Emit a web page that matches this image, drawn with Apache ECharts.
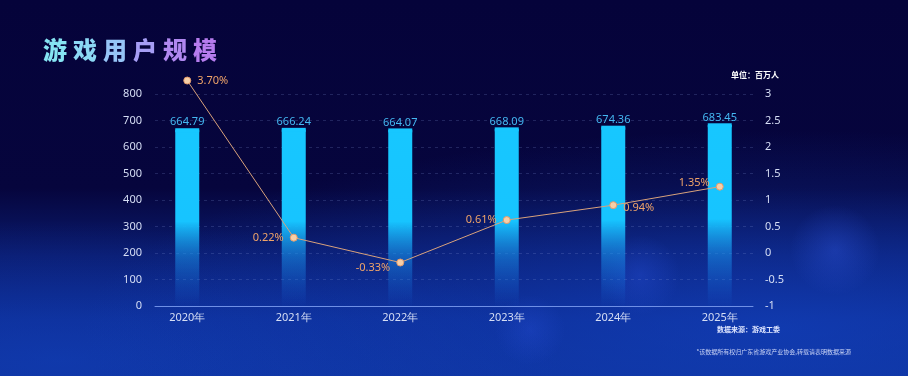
<!DOCTYPE html>
<html><head><meta charset="utf-8">
<script src="https://cdn.jsdelivr.net/npm/echarts@6/dist/echarts.min.js"></script>
<style>
html,body{margin:0;padding:0;width:908px;height:376px;overflow:hidden;}
#bg{position:absolute;left:0;top:0;width:908px;height:376px;
background:
radial-gradient(circle at 640px 275px, rgba(40,80,220,0.35) 0, rgba(40,80,220,0) 40px),
radial-gradient(circle at 835px 250px, rgba(50,90,230,0.35) 0, rgba(50,90,230,0) 45px),
radial-gradient(circle at 530px 330px, rgba(40,80,220,0.3) 0, rgba(40,80,220,0) 35px),
radial-gradient(ellipse 700px 200px at 780px 330px, rgba(20,70,200,0.55) 0, rgba(20,70,200,0) 100%),
radial-gradient(ellipse 500px 140px at 60px 360px, rgba(20,70,200,0.45) 0, rgba(20,70,200,0) 100%),
linear-gradient(180deg, #05033a 0%, #06053d 50%, #0a1b6e 68%, #0c2a8e 85%, #0d2f95 100%);}
#main{position:absolute;left:0;top:0;width:908px;height:376px;}
</style></head>
<body><div id="bg"></div><div id="main"></div>
<script>
const categories = ['2020年','2021年','2022年','2023年','2024年','2025年'];
const users = [664.79, 666.24, 664.07, 668.09, 674.36, 683.45];
const growth = [3.70, 0.22, -0.33, 0.61, 0.94, 1.35];
const growthLabelPos = ['right','left','left','left','right','left'];
const leftAxis = {min: 0, max: 800, interval: 100};
const rightAxis = {min: -1, max: 3, interval: 0.5};
const titleChars = ['游','戏','用','户','规','模'];
const titleColors = ['#86e4f3','#8cd8f5','#96c4f7','#a69ef5','#b088f0','#b67cee'];

const chart = echarts.init(document.getElementById('main'), null, {renderer: 'canvas'});
const G = echarts.graphic;
const barColor = new G.LinearGradient(0, 0, 0, 1, [
  {offset: 0, color: '#17c7ff'},
  {offset: 0.52, color: '#17c4ff'},
  {offset: 0.72, color: 'rgba(25,150,240,0.55)'},
  {offset: 1, color: 'rgba(25,110,230,0.02)'}
]);
const lineData = growth.map((v, i) => {
  const pos = growthLabelPos[i];
  let offset = [0, 0];
  if (i === 2) offset = [0, 5];
  if (i === 4) offset = [0, 3];
  if (i === 5) offset = [0, -4];
  return {value: v, label: {position: pos, offset: offset}};
});
const rich = {};
titleChars.forEach((c, i) => {
  rich['c' + i] = {color: titleColors[i], fontFamily: 'Noto Sans CJK SC', fontWeight: 900,
    fontSize: 24, width: 30, align: 'center'};
});
const titleText = titleChars.map((c, i) => '{c' + i + '|' + c + '}').join('');

chart.setOption({
  backgroundColor: 'transparent',
  title: {
    text: titleText, left: 35, top: 33,
    textStyle: {rich: rich, fontSize: 24, fontWeight: 900}
  },
  graphic: [
    {type: 'text', right: 129, top: 71, style: {text: '单位：百万人', fill: '#ffffff', font: 'bold 8px "Noto Sans CJK SC"'}},
    {type: 'text', right: 128, top: 326, style: {text: '数据来源：游戏工委', fill: '#dfe6ff', font: 'bold 7px "Noto Sans CJK SC"'}},
    {type: 'text', right: 57, top: 349, style: {text: '*该数据所有权归广东省游戏产业协会,转载请表明数据来源', fill: '#c9d3f5', font: '6px "Noto Sans CJK SC"'}}
  ],
  grid: [
    {left: 134, right: 135, top: 60, bottom: 70},
    {left: 155, right: 155, top: 94, bottom: 70}
  ],
  xAxis: [
    {type: 'category', gridIndex: 0, data: categories,
     axisLine: {show: false}, axisTick: {show: false},
     axisLabel: {color: '#d6def5', fontSize: 11, margin: 6, fontFamily: 'Noto Sans'}},
    {type: 'category', gridIndex: 1, data: categories,
     axisLine: {show: true, lineStyle: {color: '#6f90e6', width: 1}}, axisTick: {show: false},
     axisLabel: {show: false}}
  ],
  yAxis: [
    {type: 'value', gridIndex: 1, min: leftAxis.min, max: leftAxis.max, interval: leftAxis.interval,
     axisLine: {show: false}, axisTick: {show: false},
     axisLabel: {color: '#d6def5', fontSize: 11, margin: 13, fontFamily: 'Noto Sans'},
     splitLine: {show: true, lineStyle: {color: 'rgba(130,150,220,0.22)', type: [3, 4]}}},
    {type: 'value', gridIndex: 1, position: 'right', min: rightAxis.min, max: rightAxis.max, interval: rightAxis.interval,
     axisLine: {show: false}, axisTick: {show: false},
     axisLabel: {color: '#d6def5', fontSize: 11, margin: 12, fontFamily: 'Noto Sans'},
     splitLine: {show: false}},
    {type: 'value', gridIndex: 0, min: 0, max: 928.3, show: false},
    {type: 'value', gridIndex: 0, min: -1.293, max: 4.155, show: false}
  ],
  series: [
    {type: 'bar', xAxisIndex: 0, yAxisIndex: 2, data: users, barWidth: 24,
     itemStyle: {color: barColor},
     label: {show: true, position: 'top', distance: 2, color: '#45b8f2', fontSize: 11, fontFamily: 'Noto Sans',
       formatter: p => p.value.toFixed(2)}},
    {type: 'pictorialBar', xAxisIndex: 0, yAxisIndex: 2, data: users, symbol: 'ellipse',
     symbolSize: [24, 4], symbolPosition: 'end', symbolOffset: [0, '-40%'], z: 3,
     itemStyle: {color: '#17c7ff'}, silent: true},
    {type: 'line', xAxisIndex: 0, yAxisIndex: 3, data: lineData, z: 5,
     lineStyle: {color: '#d9a27c', width: 1},
     symbol: 'circle', symbolSize: 7,
     itemStyle: {color: '#f6cfa8', borderColor: '#e39a6a', borderWidth: 1},
     label: {show: true, color: '#f0a469', fontSize: 11, fontFamily: 'Noto Sans', distance: 6,
       formatter: p => p.value.toFixed(2) + '%'}}
  ]
});
</script></body></html>
